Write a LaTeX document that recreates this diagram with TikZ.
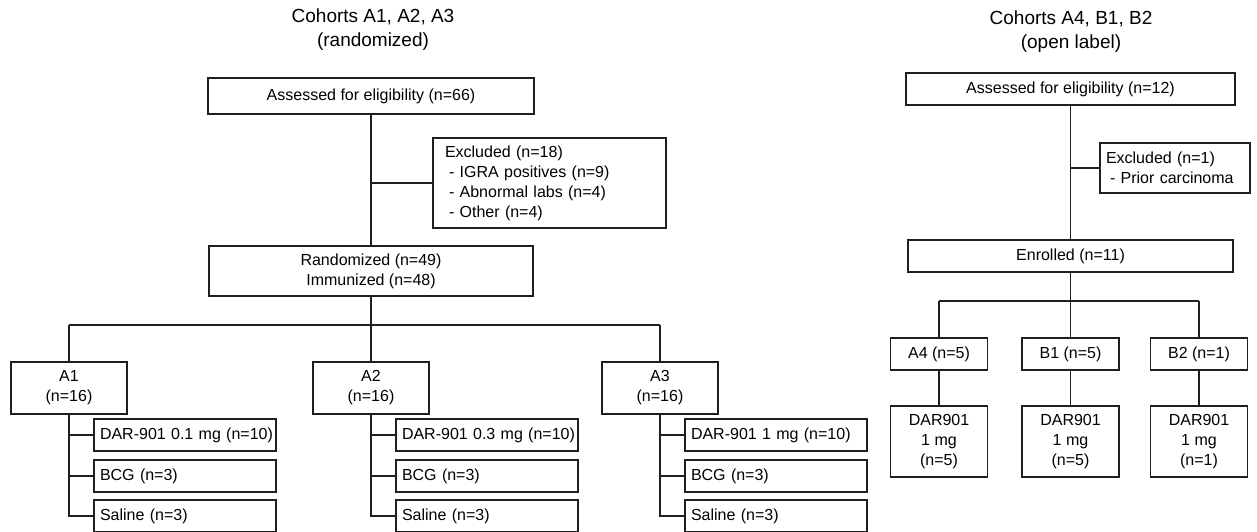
\documentclass[tikz,border=0pt]{standalone}
\usepackage{fontspec}
\setmainfont{Liberation Sans}
\usetikzlibrary{positioning}

\tikzset{
  box/.style={draw=black!88, line width=1.3pt, inner sep=0pt, align=center,
    font=\fontsize{16}{20}\selectfont},
  leftbox/.style={box, align=left},
  armbox/.style={leftbox, minimum width=182pt, minimum height=32pt, text width=176pt},
  heading/.style={inner sep=0pt, align=center, font=\fontsize{19}{24}\selectfont},
  link/.style={draw=black!88, line width=1.3pt}
}

\begin{document}
\begin{tikzpicture}[x=1pt, y=-1pt]
    \useasboundingbox (0,0) rectangle (1257,531);

    % randomized cohorts
    \node[heading] (titleL) at (373,30) {Cohorts A1, A2, A3\\(randomized)};
    \node[box, minimum width=326pt, minimum height=36pt] (assessL) at (371,96) {Assessed for eligibility (n=66)};
    \node[leftbox, minimum width=233pt, minimum height=90pt, text width=209pt] (exclL) at (549.5,183)
        {Excluded (n=18)\\\hspace{4pt}- IGRA positives (n=9)\\\hspace{4pt}- Abnormal labs (n=4)\\\hspace{4pt}- Other (n=4)};
    \node[box, minimum width=324pt, minimum height=50pt] (randL) at (371,271) {Randomized (n=49)\\Immunized (n=48)};
    \coordinate (barL) at (371,325);

    \draw[link] (assessL) -- (randL);
    \draw[link] (assessL.south |- exclL.west) -- (exclL.west);

    \foreach \name/\cx/\dose in {
        A1/69/0.1 mg,
        A2/371/0.3 mg,
        A3/660/1 mg}{
        \node[box, minimum width=116pt, minimum height=52pt] (\name) at (\cx,388) {\name\\(n=16)};
        \node[armbox] (\name dose) at (\cx+116,435) {\hspace*{3pt}DAR-901 \dose\unskip{} (n=10)};
        \node[armbox] (\name bcg) at (\cx+116,476) {\hspace*{3pt}BCG (n=3)};
        \node[armbox] (\name sal) at (\cx+116,516) {\hspace*{3pt}Saline (n=3)};
        \draw[link] (barL -| \name) -- (\name.north);
        \draw[link] (\name.south) |- (\name sal.west);
        \draw[link] (\name.south |- \name dose.west) -- (\name dose.west);
        \draw[link] (\name.south |- \name bcg.west) -- (\name bcg.west);
    }
    \draw[link] (randL) -- (barL);
    \draw[link] (barL -| A1) -- (barL -| A3);

    % open label cohorts
    \node[heading] (titleR) at (1071,31.5) {Cohorts A4, B1, B2\\(open label)};
    \node[box, minimum width=329pt, minimum height=32pt] (assessR) at (1070.5,89) {Assessed for eligibility (n=12)};
    \node[leftbox, minimum width=150pt, minimum height=50pt, text width=138pt] (exclR) at (1175,168)
        {Excluded (n=1)\\\hspace{4pt}- Prior carcinoma};
    \node[box, minimum width=325pt, minimum height=32pt] (enrolR) at (1070.5,256) {Enrolled (n=11)};
    \coordinate (barR) at (1070.5,301);

    \draw[link] (assessR) -- (enrolR);
    \draw[link] (assessR.south |- exclR.west) -- (exclR.west);

    \foreach \name/\cx/\n in {
        A4/939/5,
        B1/1070.5/5,
        B2/1199/1}{
        \node[box, minimum width=97pt, minimum height=32pt] (\name) at (\cx,354) {\name{} (n=\n)};
        \node[box, minimum width=97pt, minimum height=71pt] (\name dose) at (\cx,441.5) {DAR901\\1 mg\\(n=\n)};
        \draw[link] (barR -| \name) -- (\name.north);
        \draw[link] (\name) -- (\name dose);
    }
    \draw[link] (enrolR) -- (barR);
    \draw[link] (barR -| A4) -- (barR -| B2);
\end{tikzpicture}
\end{document}
